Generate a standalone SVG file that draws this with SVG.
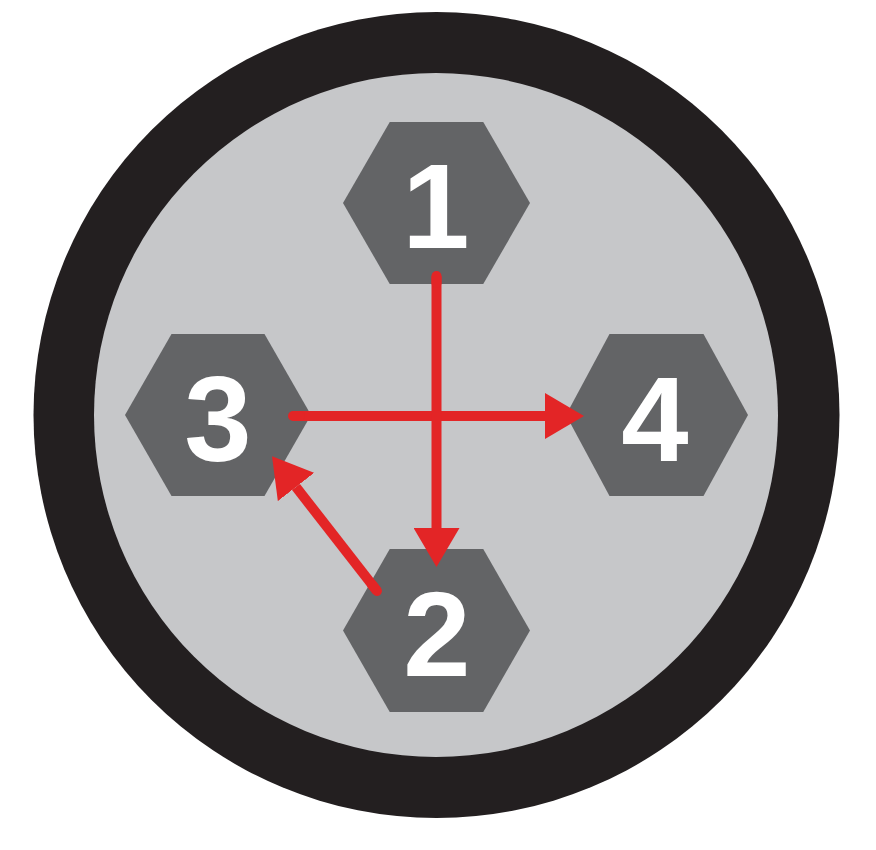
<svg xmlns="http://www.w3.org/2000/svg" width="876" height="850" viewBox="0 0 876 850">
<defs>
<style>
.hex{fill:#636466}
.num{fill:#ffffff;font-family:"Liberation Sans",Arial,sans-serif;font-weight:bold;font-size:121px;text-anchor:middle}
.conn{stroke:#e32526;stroke-width:10;fill:none}
</style>
<marker id="ah" markerUnits="userSpaceOnUse" markerWidth="40" markerHeight="46" refX="0" refY="23" orient="auto" viewBox="0 0 40 46">
<path d="M0,0 L39,23 L0,46 Z" fill="#e32526"/>
</marker>
</defs>
<rect width="876" height="850" fill="#ffffff"/>
<g id="rim">
<circle cx="436.5" cy="415" r="403" fill="#231f20"/>
<circle cx="436" cy="415" r="342" fill="#c6c7c9"/>
</g>
<g id="node1">
<polygon class="hex" points="343,203 389.75,122 483.25,122 530,203 483.25,284 389.75,284"/>
<text class="num" x="436" y="248">1</text>
</g>
<g id="node3">
<polygon class="hex" points="125,415 171.5,334 264.5,334 311,415 264.5,496 171.5,496"/>
<text class="num" x="218" y="461">3</text>
</g>
<g id="node4">
<polygon class="hex" points="566,415 609.5,334 703.5,334 748,415 703.5,496 609.5,496"/>
<text class="num" x="655" y="461">4</text>
</g>
<g id="node2">
<polygon class="hex" points="343,630.5 389.75,549 483.25,549 530,630.5 483.25,712 389.75,712"/>
<text class="num" x="437" y="676">2</text>
</g>
<g id="connectors">
<line class="conn" x1="293" y1="416" x2="545" y2="416" stroke-linecap="butt" marker-end="url(#ah)"/>
<path class="conn" d="M293,416 L300,416" stroke-linecap="round"/>
<line class="conn" x1="436.5" y1="276" x2="436.5" y2="528" marker-end="url(#ah)"/>
<path class="conn" d="M436.5,276 L436.5,283" stroke-linecap="round"/>
<line class="conn" x1="377" y1="591" x2="296" y2="487" marker-end="url(#ah)"/>
<path class="conn" d="M377,591 L372,584.6" stroke-linecap="round"/>
</g>
</svg>
